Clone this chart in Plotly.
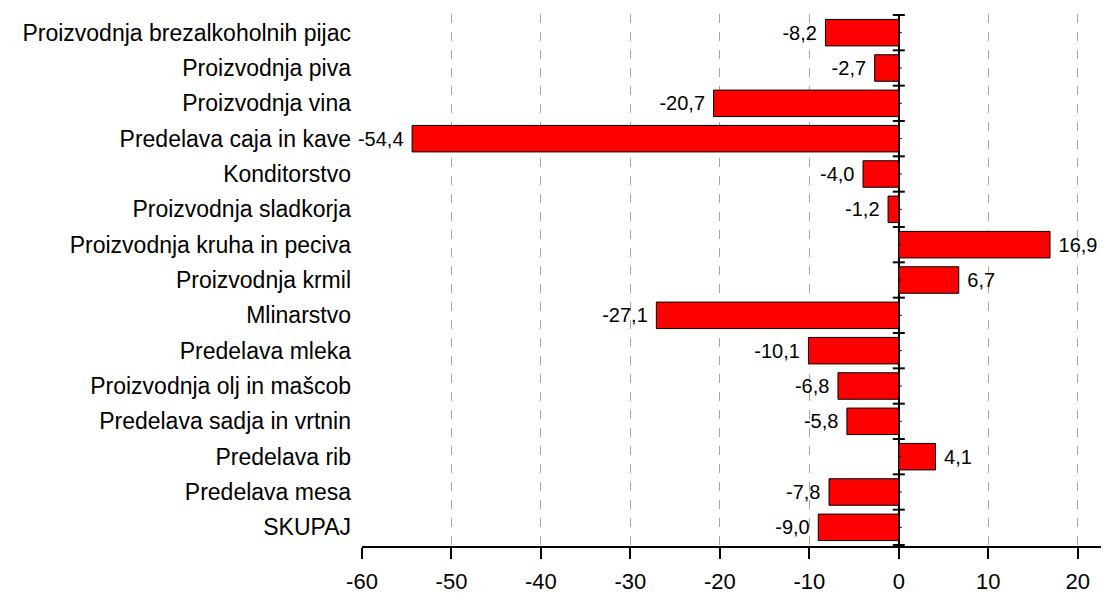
import plotly.graph_objects as go

categories = [
    "Proizvodnja brezalkoholnih pijac",
    "Proizvodnja piva",
    "Proizvodnja vina",
    "Predelava caja in kave",
    "Konditorstvo",
    "Proizvodnja sladkorja",
    "Proizvodnja kruha in peciva",
    "Proizvodnja krmil",
    "Mlinarstvo",
    "Predelava mleka",
    "Proizvodnja olj in mašcob",
    "Predelava sadja in vrtnin",
    "Predelava rib",
    "Predelava mesa",
    "SKUPAJ",
]
values = [-8.2, -2.7, -20.7, -54.4, -4.0, -1.2, 16.9, 6.7, -27.1, -10.1, -6.8, -5.8, 4.1, -7.8, -9.0]
x_ticks = [-60, -50, -40, -30, -20, -10, 0, 10, 20]

FONT = "Arial, 'Liberation Sans', sans-serif"

# small padding between bar end and its label
templates = ["%{x:.1f} " if v < 0 else " %{x:.1f}" for v in values]

fig = go.Figure(
    go.Bar(
        y=categories,
        x=values,
        orientation="h",
        marker=dict(color="#FF0000", line=dict(color="black", width=1)),
        texttemplate=templates,
        textposition="outside",
        constraintext="none",
        cliponaxis=False,
        textfont=dict(family=FONT, size=20, color="black"),
        hoverinfo="skip",
    )
)

# crossing tick marks on the zero line at category boundaries
shapes = []
n = len(categories)
for i in range(n + 1):
    yb = i - 0.5
    shapes.append(dict(
        type="line", xref="x", yref="y", xsizemode="pixel", xanchor=0,
        x0=-6, x1=6, y0=yb, y1=yb,
        line=dict(color="black", width=2), layer="above",
    ))
for i in range(n):
    shapes.append(dict(
        type="line", xref="x", yref="y", xsizemode="pixel", xanchor=0,
        x0=0, x1=3, y0=i, y1=i,
        line=dict(color="black", width=1), layer="above",
    ))

fig.update_layout(
    width=1103,
    height=596,
    margin=dict(l=362, r=2, t=14, b=39),
    paper_bgcolor="white",
    plot_bgcolor="white",
    separators=",.",
    showlegend=False,
    bargap=0.25,
    font=dict(family=FONT, color="black"),
    shapes=shapes,
    xaxis=dict(
        range=[-60, 22.6],
        tickvals=x_ticks,
        ticktext=[str(v) for v in x_ticks],
        showgrid=True,
        gridcolor="#A6A6A6",
        griddash="dash",
        gridwidth=1,
        zeroline=True,
        zerolinecolor="black",
        zerolinewidth=2,
        showline=True,
        linecolor="black",
        linewidth=2,
        ticks="outside",
        ticklen=11,
        tickwidth=2,
        tickcolor="black",
        ticklabelstandoff=4,
        tickfont=dict(family=FONT, size=22, color="black"),
        fixedrange=True,
    ),
    yaxis=dict(
        type="category",
        categoryorder="array",
        categoryarray=categories,
        autorange="reversed",
        showgrid=False,
        zeroline=False,
        showline=False,
        ticks="",
        ticklabelstandoff=10,
        tickfont=dict(family=FONT, size=23, color="black"),
        fixedrange=True,
    ),
)

fig.write_html(
    "out.html",
    config={"displayModeBar": False, "staticPlot": True},
    post_script="document.body.style.margin='0';document.body.style.overflow='hidden';",
)
